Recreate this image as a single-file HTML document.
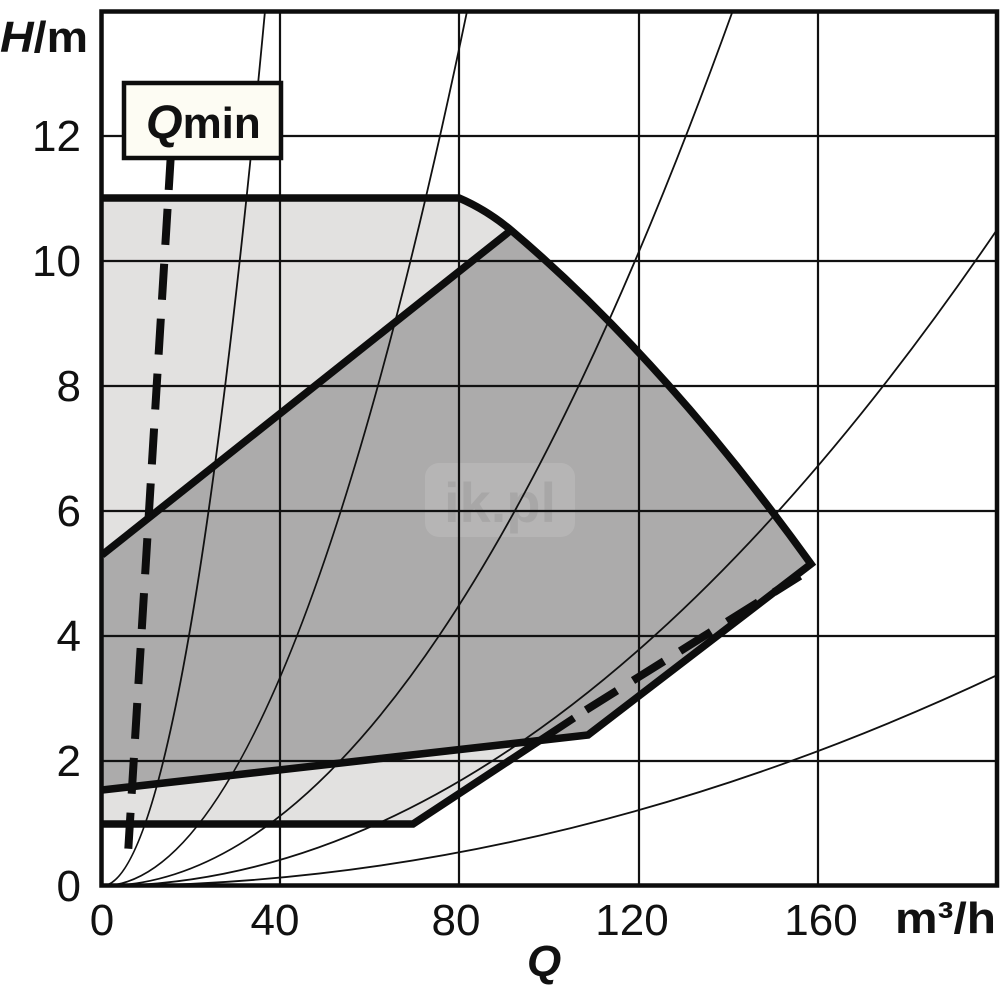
<!DOCTYPE html>
<html>
<head>
<meta charset="utf-8">
<style>
html,body{margin:0;padding:0;background:#fff;}
svg{display:block;}
text{font-family:"Liberation Sans",sans-serif;fill:#111;}
</style>
</head>
<body>
<svg width="1000" height="1000" viewBox="0 0 1000 1000" xmlns="http://www.w3.org/2000/svg">
<defs>
<clipPath id="plot"><rect x="101.5" y="11" width="896" height="875"/></clipPath>
</defs>
<rect x="0" y="0" width="1000" height="1000" fill="#fff"/>

<g clip-path="url(#plot)">
<!-- light envelope -->
<path d="M102,198 L459,198 Q487,210 512,231 Q664,360 811,564 L588,735 L532,741 L413,824 L102,824 Z" fill="#e2e1e0"/>
<!-- dark region -->
<path d="M102,555 L510,231 L512,231 Q664,360 811,564 L588,735 L102,790 Z" fill="#acabab"/>

<!-- watermark -->
<rect x="425" y="463" width="150" height="74" rx="14" fill="#ffffff" opacity="0.13"/>
<text x="500" y="522" text-anchor="middle" font-size="56" font-weight="bold" opacity="0.35" style="fill:#8f8f8f">ik.pl</text>

<!-- grid -->
<g stroke="#111" stroke-width="2.2" fill="none">
<line x1="280" y1="11" x2="280" y2="886"/>
<line x1="459" y1="11" x2="459" y2="886"/>
<line x1="639" y1="11" x2="639" y2="886"/>
<line x1="818" y1="11" x2="818" y2="886"/>
<line x1="101" y1="761" x2="997" y2="761"/>
<line x1="101" y1="636" x2="997" y2="636"/>
<line x1="101" y1="511" x2="997" y2="511"/>
<line x1="101" y1="386" x2="997" y2="386"/>
<line x1="101" y1="261" x2="997" y2="261"/>
<line x1="101" y1="136" x2="997" y2="136"/>
</g>

<!-- system curves -->
<g stroke="#111" stroke-width="1.8" fill="none">
<path d="M101.5,886 Q183.3,886 265,11"/>
<path d="M101.5,886 Q284.3,886 467.1,11"/>
<path d="M101.5,886 Q417.1,886 732.7,11"/>
<path d="M101.5,886 Q549.5,886 997.5,229"/>
<path d="M101.5,886 Q549.5,886 997.5,675"/>
</g>

<!-- thick boundaries -->
<g stroke="#0d0d0d" stroke-width="7.5" fill="none" stroke-linejoin="miter">
<path d="M102,198 L459,198 Q487,210 512,231 Q664,360 811,564 L588,735 L102,790"/>
<path d="M102,555 L510,231"/>
<path d="M102,824 L413,824 L574,718"/>
</g>
<!-- dashed lower limit -->
<path d="M586,710 L800,576" stroke="#0d0d0d" stroke-width="8" fill="none" stroke-dasharray="36.5 19"/>
<!-- Qmin dashed -->
<path d="M170.9,154 L128.3,849" stroke="#0d0d0d" stroke-width="8" fill="none" stroke-dasharray="36 19"/>
</g>

<!-- Qmin box -->
<rect x="124" y="83" width="157" height="75" fill="#fdfcf3" stroke="#0d0d0d" stroke-width="4.5"/>
<text x="146" y="138" font-size="44" font-weight="bold"><tspan font-style="italic" font-size="47">Q</tspan><tspan>min</tspan></text>

<!-- frame -->
<rect x="101.5" y="11.5" width="895.5" height="874" fill="none" stroke="#0d0d0d" stroke-width="4.5"/>

<!-- y tick labels -->
<g font-size="44" text-anchor="end">
<text x="81" y="901">0</text>
<text x="81" y="776">2</text>
<text x="81" y="651">4</text>
<text x="81" y="526">6</text>
<text x="81" y="401">8</text>
<text x="81" y="276">10</text>
<text x="81" y="151">12</text>
</g>
<!-- x tick labels -->
<g font-size="44" text-anchor="middle">
<text x="102" y="935">0</text>
<text x="275" y="935">40</text>
<text x="456" y="935">80</text>
<text x="632" y="935">120</text>
<text x="821" y="935">160</text>
</g>

<!-- axis titles -->
<text x="0" y="52" font-size="44" font-weight="bold" textLength="88" lengthAdjust="spacingAndGlyphs"><tspan font-style="italic">H</tspan>/m</text>
<text x="895" y="933" font-size="44" font-weight="bold" textLength="101" lengthAdjust="spacingAndGlyphs">m³/h</text>
<text x="527" y="976" font-size="44" font-weight="bold" font-style="italic">Q</text>
</svg>
</body>
</html>
